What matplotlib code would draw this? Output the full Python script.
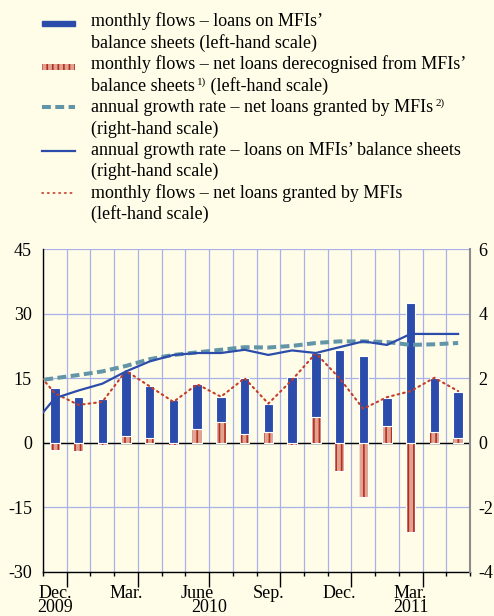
import numpy as np
import matplotlib
matplotlib.use('Agg')
import matplotlib.pyplot as plt
from matplotlib.patches import Rectangle
from matplotlib.lines import Line2D

plt.rcParams['font.family'] = ['Liberation Serif', 'DejaVu Serif']
plt.rcParams['axes.unicode_minus'] = False
plt.rcParams['hatch.linewidth'] = 1.2

# ---- data (Dec 2009 - May 2011) ----
month_labels = ['Dec.', '', '', 'Mar.', '', '', 'June', '', '', 'Sep.', '', '',
                'Dec.', '', '', 'Mar.', '', '']
year_labels = ['2009', '2010', '2011']
year_pos = [0, 6.5, 15]

# monthly flows, left-hand scale
loans_on_bs = [12.7, 10.6, 10.2, 15.1, 12.0, 9.9, 10.4, 5.8, 12.9,
               6.7, 15.2, 14.7, 21.5, 20.1, 6.5, 32.4, 12.7, 10.8]
derecognised = [-1.6, -2.0, -0.5, 1.6, 1.1, -0.6, 3.2, 4.9, 2.1,
                2.4, -0.6, 6.1, -6.5, -12.5, 3.9, -20.6, 2.4, 1.1]

# line series start in Nov 2009 (clipped at the left edge)
net_granted_flow = [18.0, 11.5, 8.8, 9.5, 16.7, 13.1, 9.5, 13.6, 10.7, 15.0,
                    9.1, 14.6, 20.8, 15.0, 7.9, 10.6, 12.0, 15.1, 12.0]
# annual growth rates, right-hand scale
growth_net_granted = [1.9, 2.0, 2.1, 2.21, 2.38, 2.59, 2.72, 2.80, 2.88, 2.96,
                      2.95, 3.0, 3.09, 3.14, 3.14, 3.12, 3.03, 3.05, 3.09]
growth_on_bs = [0.5, 1.38, 1.62, 1.83, 2.21, 2.52, 2.72, 2.78, 2.78, 2.88,
                2.72, 2.86, 2.78, 2.96, 3.14, 3.03, 3.37, 3.37, 3.37]

# colours
bg = '#FFFDE8'
grid_col = '#AAB0EA'
blue = '#2B4CAA'
salmon = '#E2A291'
stripe = '#B3301F'
teal = '#6395A8'
dot_red = '#C43C2A'

fs = 13

fig = plt.figure(figsize=(4.94, 6.16), dpi=100, facecolor=bg)

W, H = 494, 616
ax = fig.add_axes([43 / W, 1 - 572 / H, 427 / W, 323 / H], facecolor=bg)

x = np.arange(len(loans_on_bs))
xl = np.arange(-1, len(loans_on_bs))
bw = 0.4

# bars
ax.bar(x, derecognised, width=bw, color=salmon, edgecolor='white', lw=0.8, zorder=3)
ax.bar(x, derecognised, width=bw, color='none', edgecolor=stripe, hatch='|||', lw=0, zorder=3.1)
ax.bar(x, loans_on_bs, bottom=np.maximum(derecognised, 0), width=bw, color=blue,
       edgecolor='white', lw=0.8, zorder=3.2)
ax.axhline(0, color='black', lw=1.0, zorder=2.5)

ax.plot(xl, net_granted_flow, color=dot_red, lw=1.5, ls=(0, (0.8, 1.9)),
        dash_capstyle='round', zorder=5)

ax.set_xlim(-0.5, len(loans_on_bs) - 0.5)
ax.set_ylim(-30, 45)
ax.set_yticks(np.arange(-30, 46, 15))
ax.set_xticks(np.arange(0.5, 18, 3))
ax.set_xticks(np.arange(-0.5, 18, 1), minor=True)
ax.set_xticklabels([])
ax.tick_params(axis='y', length=0, pad=8, labelsize=fs)
ax.tick_params(axis='x', which='major', length=11, width=1, color='black')
ax.tick_params(axis='x', which='minor', length=3, width=1, color='black')
ax.set_axisbelow(True)
ax.grid(axis='x', which='both', color=grid_col, lw=0.9)
ax.grid(axis='y', which='major', color=grid_col, lw=0.9)
ax.spines['top'].set_visible(False)
ax.spines['right'].set_visible(False)
for s in ('left', 'bottom'):
    ax.spines[s].set_color('black')
    ax.spines[s].set_linewidth(1.0)

ax2 = ax.twinx()
ax2.plot(xl, growth_net_granted, color=teal, lw=2.9, ls=(0, (2.2, 1.1)), zorder=4)
ax2.plot(xl, growth_on_bs, color=blue, lw=1.6, zorder=4.5)
ax2.set_ylim(-4, 6)
ax2.set_yticks(np.arange(-4, 7, 2))
ax2.tick_params(axis='y', length=0, pad=6, labelsize=fs)
for s in ('left', 'top', 'bottom'):
    ax2.spines[s].set_visible(False)
ax2.spines['right'].set_color('#8C8C8C')
ax2.spines['right'].set_linewidth(1.5)

# month and year labels
tr = ax.get_xaxis_transform()
for i, lab in enumerate(month_labels):
    if lab:
        ax.text(i, -21 / 323, lab, transform=tr, ha='center', va='center', fontsize=fs)
for p, lab in zip(year_pos, year_labels):
    ax.text(p, -40 / 323, lab, transform=tr, ha='center', va='baseline', fontsize=fs,
            clip_on=False)

# legend drawn in pixel coordinates
lax = fig.add_axes([0, 0, 1, 1], zorder=-1)
lax.set_xlim(0, W)
lax.set_ylim(H, 0)
lax.axis('off')

# (text, superscript, text after superscript)
legend_lines = [
    ('monthly flows – loans on MFIs’', '', ''),
    ('balance sheets (left-hand scale)', '', ''),
    ('monthly flows – net loans derecognised from MFIs’', '', ''),
    ('balance sheets', '1)', ' (left-hand scale)'),
    ('annual growth rate – net loans granted by MFIs', '2)', ''),
    ('(right-hand scale)', '', ''),
    ('annual growth rate – loans on MFIs’ balance sheets', '', ''),
    ('(right-hand scale)', '', ''),
    ('monthly flows – net loans granted by MFIs', '', ''),
    ('(left-hand scale)', '', ''),
]
renderer = fig.canvas.get_renderer()
inv = lax.transData.inverted()
for i, (t, sup, rest) in enumerate(legend_lines):
    yb = 26.5 + 21.4 * i
    txt = lax.text(91, yb, t, ha='left', va='baseline', fontsize=fs)
    if sup:
        x_end = inv.transform(txt.get_window_extent(renderer).get_points())[1, 0]
        s = lax.text(x_end + 2, yb - 6, sup, ha='left', va='baseline', fontsize=8)
        if rest:
            x_end2 = inv.transform(s.get_window_extent(renderer).get_points())[1, 0]
            lax.text(x_end2, yb, rest, ha='left', va='baseline', fontsize=fs)

lax.add_patch(Rectangle((42, 20.5), 33, 5, color=blue))
lax.add_patch(Rectangle((42, 64), 33, 5.5, facecolor=salmon, edgecolor='none'))
lax.add_patch(Rectangle((42, 64), 33, 5.5, facecolor='none', edgecolor=stripe, hatch='|||', lw=0))
lax.add_line(Line2D([42, 75], [107.3, 107.3], color=teal, lw=2.9, ls=(0, (2.2, 1.1))))
lax.add_line(Line2D([42, 75], [150.7, 150.7], color=blue, lw=1.6))
lax.add_line(Line2D([42, 75], [192.7, 192.7], color=dot_red, lw=1.2, ls=(0, (0.8, 2.6)),
                    dash_capstyle='round'))

fig.savefig('out.png', dpi=100, facecolor=bg)
